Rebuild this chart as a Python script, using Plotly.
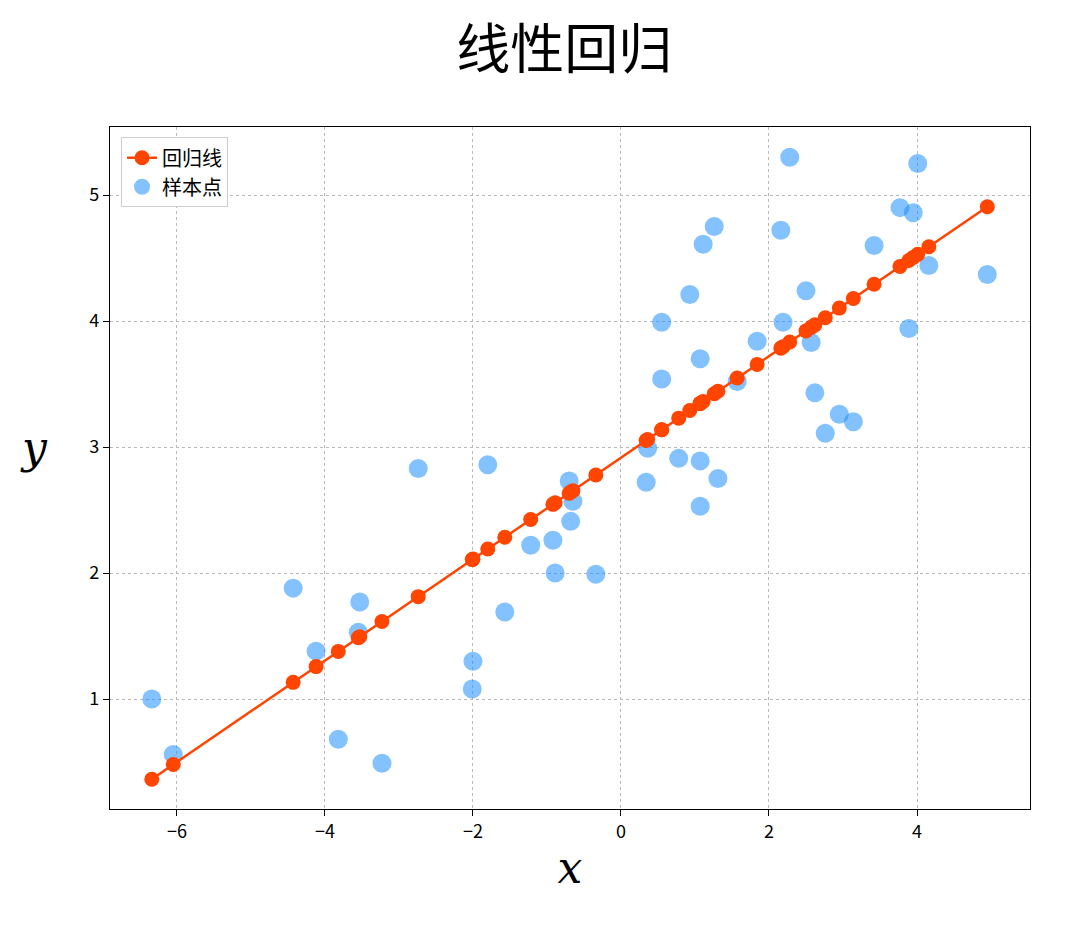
#------------------------------------------------------------------------------
#   Linear regression chart
#------------------------------------------------------------------------------
import numpy as np
import plotly.graph_objects as go

#------------------------------------------------------------------------------
#   Data
#------------------------------------------------------------------------------
x_pts = [-6.34, -6.05, -4.43, -4.12, -3.82, -3.53, -3.55, -3.23, -2.74, -2.00,
         -2.01, -1.80, -1.57, -1.22, -0.92, -0.89, -0.70, -0.65, -0.68, -0.34,
         0.34, 0.36, 0.55, 0.55, 0.78, 0.93, 1.07, 1.07, 1.07, 1.11,
         1.26, 1.31, 1.57, 1.84, 2.16, 2.19, 2.28, 2.50, 2.57, 2.62,
         2.76, 2.95, 3.14, 3.42, 3.77, 3.89, 3.95, 4.01, 4.16, 4.95]
y_pts = [1.00, 0.56, 1.88, 1.38, 0.68, 1.77, 1.53, 0.49, 2.83, 1.30,
         1.08, 2.86, 1.69, 2.22, 2.26, 2.00, 2.73, 2.57, 2.41, 1.99,
         2.72, 2.99, 3.99, 3.54, 2.91, 4.21, 3.70, 2.89, 2.53, 4.61,
         4.75, 2.75, 3.52, 3.84, 4.72, 3.99, 5.30, 4.24, 3.83, 3.43,
         3.11, 3.26, 3.20, 4.60, 4.90, 3.94, 4.86, 5.25, 4.44, 4.37]

x_arr = np.array(x_pts)
slope, intercept = np.polyfit(x_arr, np.array(y_pts), 1)
order = np.argsort(x_arr)
x_fit = x_arr[order]
y_fit = slope * x_fit + intercept

#------------------------------------------------------------------------------
#   Figure
#------------------------------------------------------------------------------
fig = go.Figure()
fig.add_trace(go.Scatter(x=x_pts, y=y_pts, mode='markers', name='样本点',
                         legendrank=2,
                         marker=dict(color='rgba(30,144,255,0.55)', size=19)))
fig.add_trace(go.Scatter(x=x_fit, y=y_fit, mode='lines+markers', name='回归线',
                         legendrank=1,
                         line=dict(color='#FF4500', width=2.5),
                         marker=dict(color='#FF4500', size=15)))

axis_common = dict(showline=True, linecolor='black', linewidth=1.2, mirror=True,
                   showgrid=True, gridcolor='#b8b8b8', griddash='dot', gridwidth=1,
                   zeroline=False, ticks='outside', ticklen=6, tickcolor='black',
                   tickfont=dict(size=18, color='black'))

fig.update_layout(
    width=1080, height=940,
    paper_bgcolor='white', plot_bgcolor='white',
    margin=dict(l=102, r=58, t=119, b=139),
    font=dict(family='Noto Sans CJK SC, DejaVu Sans', color='black'),
    title=dict(text='线性回归', x=0.515, xanchor='center', y=0.975, yanchor='top',
               font=dict(size=54, color='black')),
    xaxis=dict(axis_common, range=[-6.905, 5.527], tickvals=[-6, -4, -2, 0, 2, 4],
               ticktext=['−6', '−4', '−2', '0', '2', '4'],
               title=dict(text='<i>x</i>', font=dict(size=44, family='DejaVu Serif'),
                          standoff=10)),
    yaxis=dict(axis_common, range=[0.127, 5.54], tickvals=[1, 2, 3, 4, 5]),
    legend=dict(x=0.012, y=0.985, xanchor='left', yanchor='top',
                bgcolor='white', bordercolor='#cccccc', borderwidth=1,
                font=dict(size=20)),
    showlegend=True,
)
fig.add_annotation(text='<i>y</i>', xref='paper', yref='paper', x=-0.1, y=0.53,
                   showarrow=False, font=dict(size=44, family='DejaVu Serif'))

fig.write_html("out.html")
